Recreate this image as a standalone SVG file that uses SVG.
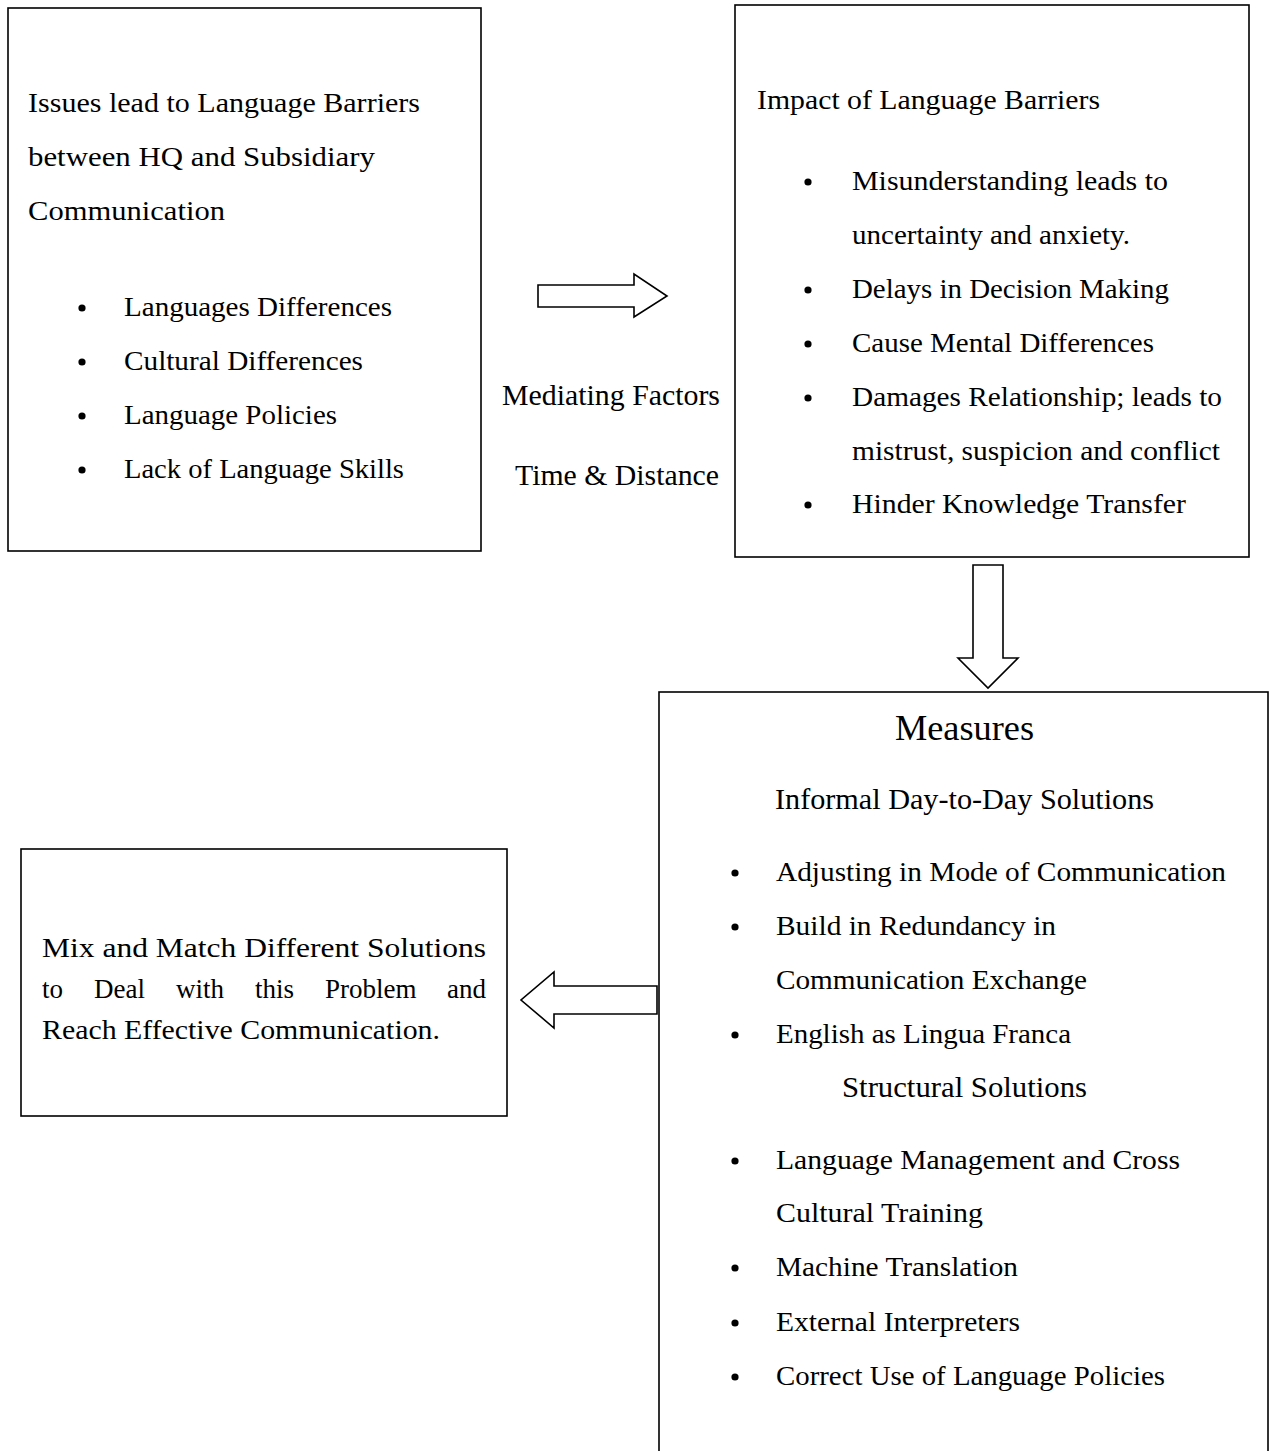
<svg xmlns="http://www.w3.org/2000/svg" width="1270" height="1451" viewBox="0 0 1270 1451">
<style>
.box{fill:#fff;stroke:#000;stroke-width:1.6}
.arr{fill:#fff;stroke:#000;stroke-width:1.6;stroke-linejoin:miter}
.b{font-family:"Liberation Serif","Times New Roman",serif;font-size:27px;fill:#000}
.t{font-family:"Liberation Serif","Times New Roman",serif;font-size:30px;fill:#000}
.h{font-family:"Liberation Serif","Times New Roman",serif;font-size:36px;fill:#000}
.dot{fill:#000}
</style>
<rect width="1270" height="1451" fill="#fff"/>
<g id="connectors">
<polygon class="arr" points="538,285 634,285 634,274 667,296 634,317 634,307 538,307"/>
<polygon class="arr" points="973,565 1003,565 1003,658 1018,658 988,688 958,658 973,658"/>
<polygon class="arr" points="657,986 554,986 554,972 521,1000 554,1028 554,1014 657,1014"/>
</g>
<g id="node-issues">
<rect class="box" x="8" y="8" width="473" height="543"/>
<text class="b" x="28" y="112" textLength="392" lengthAdjust="spacingAndGlyphs">Issues lead to Language Barriers</text>
<text class="b" x="28" y="166" textLength="347" lengthAdjust="spacingAndGlyphs">between HQ and Subsidiary</text>
<text class="b" x="28" y="220" textLength="197" lengthAdjust="spacingAndGlyphs">Communication</text>
<circle class="dot" cx="82" cy="308" r="3.6"/>
<circle class="dot" cx="82" cy="362" r="3.6"/>
<circle class="dot" cx="82" cy="416" r="3.6"/>
<circle class="dot" cx="82" cy="470" r="3.6"/>
<text class="b" x="124" y="316" textLength="268" lengthAdjust="spacingAndGlyphs">Languages Differences</text>
<text class="b" x="124" y="370" textLength="239" lengthAdjust="spacingAndGlyphs">Cultural Differences</text>
<text class="b" x="124" y="424" textLength="213" lengthAdjust="spacingAndGlyphs">Language Policies</text>
<text class="b" x="124" y="478" textLength="280" lengthAdjust="spacingAndGlyphs">Lack of Language Skills</text>
</g>
<g id="label-mediating">
<text class="t" x="502" y="405" textLength="218" lengthAdjust="spacingAndGlyphs">Mediating Factors</text>
<text class="t" x="515" y="485" textLength="204" lengthAdjust="spacingAndGlyphs">Time &amp; Distance</text>
</g>
<g id="node-impact">
<rect class="box" x="735" y="5" width="514" height="552"/>
<text class="b" x="757" y="109" textLength="343" lengthAdjust="spacingAndGlyphs">Impact of Language Barriers</text>
<circle class="dot" cx="808" cy="182" r="3.6"/>
<circle class="dot" cx="808" cy="290" r="3.6"/>
<circle class="dot" cx="808" cy="344" r="3.6"/>
<circle class="dot" cx="808" cy="398" r="3.6"/>
<circle class="dot" cx="808" cy="505" r="3.6"/>
<text class="b" x="852" y="190" textLength="316" lengthAdjust="spacingAndGlyphs">Misunderstanding leads to</text>
<text class="b" x="852" y="244" textLength="278" lengthAdjust="spacingAndGlyphs">uncertainty and anxiety.</text>
<text class="b" x="852" y="298" textLength="317" lengthAdjust="spacingAndGlyphs">Delays in Decision Making</text>
<text class="b" x="852" y="352" textLength="302" lengthAdjust="spacingAndGlyphs">Cause Mental Differences</text>
<text class="b" x="852" y="406" textLength="370" lengthAdjust="spacingAndGlyphs">Damages Relationship; leads to</text>
<text class="b" x="852" y="460" textLength="368" lengthAdjust="spacingAndGlyphs">mistrust, suspicion and conflict</text>
<text class="b" x="852" y="513" textLength="334" lengthAdjust="spacingAndGlyphs">Hinder Knowledge Transfer</text>
</g>
<g id="node-measures">
<rect class="box" x="659" y="692" width="609" height="800"/>
<text class="h" x="895" y="740" textLength="139" lengthAdjust="spacingAndGlyphs">Measures</text>
<text class="t" x="775" y="809" textLength="379" lengthAdjust="spacingAndGlyphs">Informal Day-to-Day Solutions</text>
<circle class="dot" cx="735" cy="873" r="3.6"/>
<circle class="dot" cx="735" cy="927" r="3.6"/>
<circle class="dot" cx="735" cy="1035" r="3.6"/>
<circle class="dot" cx="735" cy="1161" r="3.6"/>
<circle class="dot" cx="735" cy="1268" r="3.6"/>
<circle class="dot" cx="735" cy="1323" r="3.6"/>
<circle class="dot" cx="735" cy="1377" r="3.6"/>
<text class="b" x="776" y="881" textLength="450" lengthAdjust="spacingAndGlyphs">Adjusting in Mode of Communication</text>
<text class="b" x="776" y="935" textLength="280" lengthAdjust="spacingAndGlyphs">Build in Redundancy in</text>
<text class="b" x="776" y="989" textLength="311" lengthAdjust="spacingAndGlyphs">Communication Exchange</text>
<text class="b" x="776" y="1043" textLength="295" lengthAdjust="spacingAndGlyphs">English as Lingua Franca</text>
<text class="t" x="842" y="1097" textLength="245" lengthAdjust="spacingAndGlyphs">Structural Solutions</text>
<text class="b" x="776" y="1169" textLength="404" lengthAdjust="spacingAndGlyphs">Language Management and Cross</text>
<text class="b" x="776" y="1222" textLength="207" lengthAdjust="spacingAndGlyphs">Cultural Training</text>
<text class="b" x="776" y="1276" textLength="242" lengthAdjust="spacingAndGlyphs">Machine Translation</text>
<text class="b" x="776" y="1331" textLength="244" lengthAdjust="spacingAndGlyphs">External Interpreters</text>
<text class="b" x="776" y="1385" textLength="389" lengthAdjust="spacingAndGlyphs">Correct Use of Language Policies</text>
</g>
<g id="node-mix">
<rect class="box" x="21" y="849" width="486" height="267"/>
<text class="b" x="42" y="957" textLength="444" lengthAdjust="spacingAndGlyphs">Mix and Match Different Solutions</text>
<text class="b" x="42" y="998">to</text>
<text class="b" x="94" y="998">Deal</text>
<text class="b" x="176" y="998">with</text>
<text class="b" x="255" y="998">this</text>
<text class="b" x="325" y="998">Problem</text>
<text class="b" x="486" y="998" text-anchor="end">and</text>
<text class="b" x="42" y="1039" textLength="398" lengthAdjust="spacingAndGlyphs">Reach Effective Communication.</text>
</g>
</svg>
